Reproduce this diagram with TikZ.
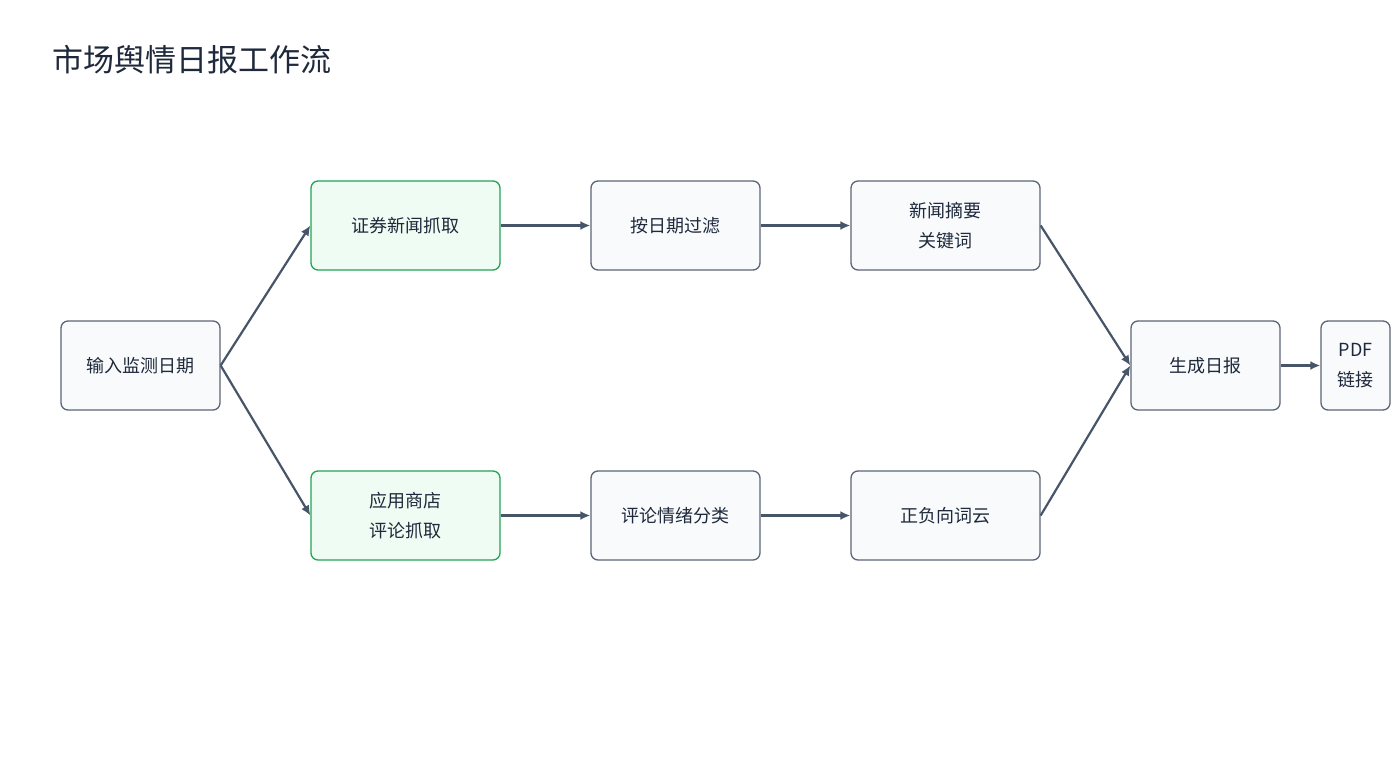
\documentclass[tikz,border=0pt]{standalone}
\usepackage{fontspec}
\setmainfont{Noto Sans CJK SC}
\usetikzlibrary{arrows.meta}
\definecolor{bord}{HTML}{5B6577}
\definecolor{boxfill}{HTML}{F8FAFC}
\definecolor{gbord}{HTML}{22A355}
\definecolor{gfill}{HTML}{EFFCF3}
\definecolor{arr}{HTML}{475569}
\definecolor{txt}{HTML}{1E293B}
\begin{document}
\begin{tikzpicture}[x=1pt,y=-1pt,
  box/.style={draw=bord,fill=boxfill,line width=1.3pt,rounded corners=7pt,minimum height=89pt,align=center,font=\fontsize{18pt}{30pt}\selectfont,text=txt,inner sep=0pt},
  gbox/.style={box,draw=gbord,fill=gfill},
  conn/.style={draw=arr,line width=2.2pt,-{Latex[length=10pt,width=9pt]}}]
\useasboundingbox (0,0) rectangle (1400,760);
\node[anchor=west,font=\fontsize{31pt}{36pt}\selectfont,text=txt] (title) at (49,60) {市场舆情日报工作流};
\node[box,minimum width=159pt] (in) at (140.5,365.5) {输入监测日期};
\node[gbox,minimum width=189pt] (news) at (405.5,225.5) {证券新闻抓取};
\node[box,minimum width=169pt] (filt) at (675.5,225.5) {按日期过滤};
\node[box,minimum width=189pt] (sum) at (945.5,225.5) {新闻摘要\\关键词};
\node[gbox,minimum width=189pt] (app) at (405.5,515.5) {应用商店\\评论抓取};
\node[box,minimum width=169pt] (cls) at (675.5,515.5) {评论情绪分类};
\node[box,minimum width=189pt] (cloud) at (945.5,515.5) {正负向词云};
\node[box,minimum width=149pt] (rep) at (1205.5,365.5) {生成日报};
\node[box,minimum width=69pt] (pdf) at (1355.5,365.5) {PDF\\链接};
\draw[conn] (in.east) -- (news.west);
\draw[conn] (in.east) -- (app.west);
\draw[conn] (news) -- (filt);
\draw[conn] (filt) -- (sum);
\draw[conn] (app) -- (cls);
\draw[conn] (cls) -- (cloud);
\draw[conn] (sum.east) -- (rep.west);
\draw[conn] (cloud.east) -- (rep.west);
\draw[conn] (rep) -- (pdf);
\end{tikzpicture}
\end{document}
